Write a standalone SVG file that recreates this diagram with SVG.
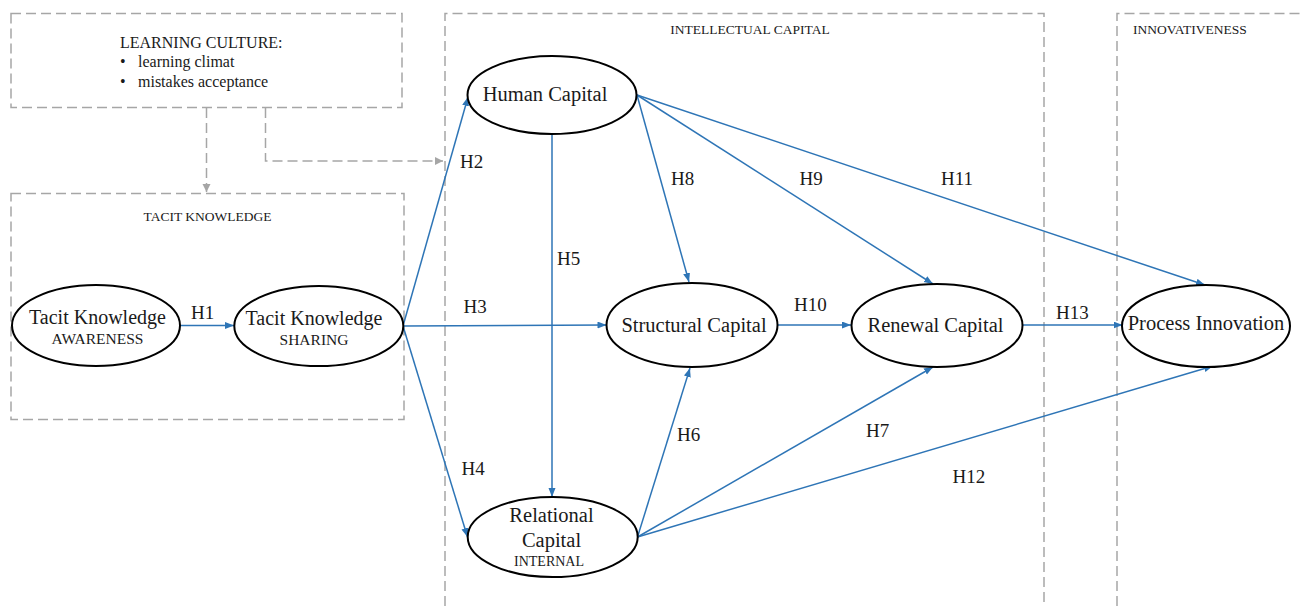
<svg xmlns="http://www.w3.org/2000/svg" width="1300" height="606" viewBox="0 0 1300 606">
<defs>
<marker id="ab" markerUnits="userSpaceOnUse" markerWidth="10" markerHeight="8" refX="9" refY="3.5" orient="auto"><path d="M0,0 L9,3.5 L0,7 z" fill="#2E75B6"/></marker>
<marker id="ag" markerUnits="userSpaceOnUse" markerWidth="10" markerHeight="9" refX="8" refY="4" orient="auto"><path d="M0,0 L8,4 L0,8 z" fill="#A6A6A6"/></marker>
</defs>
<style>
.box{fill:none;stroke:#A6A6A6;stroke-width:1.5;stroke-dasharray:10,5}
.dc{fill:none;stroke:#A6A6A6;stroke-width:1.5;stroke-dasharray:10,5}
.el{fill:#fff;stroke:#000;stroke-width:2}
.e{fill:none;stroke:#2E75B6;stroke-width:1.5;marker-end:url(#ab)}
text{font-family:"Liberation Serif","Times New Roman",serif;fill:#1a1a1a}
.t{font-size:20.5px;text-anchor:middle}
.s{font-size:15.5px;text-anchor:middle}
.c{font-size:13.5px;text-anchor:middle}
.h{font-size:19px}
.lc{font-size:16px}
</style>
<g id="frames">
<rect class="box" x="11" y="13.5" width="391" height="94"/>
<rect class="box" x="11" y="193.5" width="393" height="226"/>
<path class="box" d="M445,606 V13.5 H1044 V606"/>
<path class="box" d="M1117,606 V13.5 H1300"/>
<text x="120" y="48" class="lc">LEARNING CULTURE:</text>
<text x="120" y="67" class="lc">•</text>
<text x="138" y="67" class="lc">learning climat</text>
<text x="120" y="87" class="lc">•</text>
<text x="138" y="87" class="lc">mistakes acceptance</text>
<text x="207.5" y="221" class="c">TACIT KNOWLEDGE</text>
<text x="750" y="34" class="c">INTELLECTUAL CAPITAL</text>
<text x="1190" y="34" class="c">INNOVATIVENESS</text>
</g>
<g id="connectors">
<path class="dc" d="M206.5,108 V192" marker-end="url(#ag)"/>
<path class="dc" d="M265.5,108 V161 H443" marker-end="url(#ag)"/>
<line class="e" x1="180" y1="325.5" x2="234" y2="325.5"/>
<line class="e" x1="403" y1="326" x2="468" y2="97"/>
<line class="e" x1="403" y1="326" x2="606.5" y2="325"/>
<line class="e" x1="403" y1="326" x2="467.5" y2="537"/>
<line class="e" x1="552" y1="134" x2="552" y2="497"/>
<line class="e" x1="637" y1="95" x2="689" y2="282"/>
<line class="e" x1="637" y1="95" x2="933" y2="284"/>
<line class="e" x1="637" y1="95" x2="1205" y2="285"/>
<line class="e" x1="778" y1="325" x2="851" y2="325"/>
<line class="e" x1="1022.5" y1="325" x2="1122.5" y2="325"/>
<line class="e" x1="637.5" y1="537" x2="690" y2="368"/>
<line class="e" x1="637.5" y1="537" x2="933" y2="367"/>
<line class="e" x1="637.5" y1="537" x2="1213" y2="366"/>
<text x="191" y="319" class="h">H1</text>
<text x="460" y="168" class="h">H2</text>
<text x="463.5" y="313" class="h">H3</text>
<text x="461.5" y="475" class="h">H4</text>
<text x="557" y="265" class="h">H5</text>
<text x="677" y="441" class="h">H6</text>
<text x="866" y="437" class="h">H7</text>
<text x="671" y="185" class="h">H8</text>
<text x="799.5" y="185" class="h">H9</text>
<text x="794" y="311" class="h">H10</text>
<text x="941" y="185" class="h">H11</text>
<text x="952.5" y="483" class="h">H12</text>
<text x="1056" y="319" class="h">H13</text>
</g>
<g id="n-awareness">
<ellipse class="el" cx="96" cy="325.5" rx="84" ry="40.5"/>
<text x="97.5" y="323.5" class="t" style="font-size:20px">Tacit Knowledge</text>
<text x="97.5" y="343.5" class="s">AWARENESS</text>
</g>
<g id="n-sharing">
<ellipse class="el" cx="318.8" cy="326" rx="84.5" ry="40"/>
<text x="314" y="324.5" class="t" style="font-size:20px">Tacit Knowledge</text>
<text x="314" y="345" class="s">SHARING</text>
</g>
<g id="n-human">
<ellipse class="el" cx="552" cy="95" rx="84.5" ry="39"/>
<text x="545" y="101" class="t">Human Capital</text>
</g>
<g id="n-structural">
<ellipse class="el" cx="692" cy="325" rx="85.5" ry="42"/>
<text x="694" y="332" class="t">Structural Capital</text>
</g>
<g id="n-renewal">
<ellipse class="el" cx="937" cy="325.5" rx="85.5" ry="41.5"/>
<text x="935.5" y="332" class="t">Renewal Capital</text>
</g>
<g id="n-process">
<ellipse class="el" cx="1206" cy="326" rx="84" ry="41"/>
<text x="1206" y="330" class="t">Process Innovation</text>
</g>
<g id="n-relational">
<ellipse class="el" cx="552.7" cy="537" rx="85" ry="40"/>
<text x="551.5" y="522" class="t">Relational</text>
<text x="551.5" y="547" class="t">Capital</text>
<text x="549" y="566" class="s" style="font-size:14px">INTERNAL</text>
</g>
</svg>
